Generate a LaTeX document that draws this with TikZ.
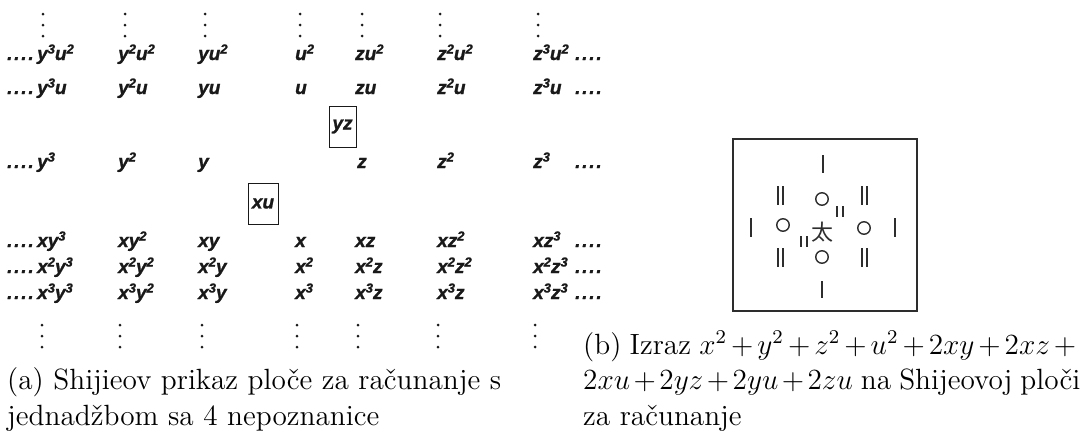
\documentclass[tikz,border=0pt]{standalone}
\usepackage{fontspec}
\usepackage{graphicx}
\newfontfamily\gridfont{Liberation Sans}[BoldItalicFeatures={FakeBold=1.2}]
\newfontfamily\cjkfont{Noto Sans CJK SC}
\newcommand\pw[1]{\raisebox{6.5pt}{\fontsize{13}{14}\selectfont #1}}
\newcommand\hdts{.\kern1.8pt.\kern1.8pt.\kern1.8pt.}
\definecolor{ink}{RGB}{25,25,25}
\definecolor{rod}{RGB}{45,45,45}
\tikzset{
  term/.style={anchor=base west, inner sep=0pt, text=ink,
    font=\gridfont\bfseries\itshape\fontsize{19}{21}\selectfont},
  boxterm/.style={draw=ink, line width=0.9pt, inner sep=0pt, text=ink,
    font=\gridfont\bfseries\itshape\fontsize{19}{21}\selectfont},
  rodline/.style={draw=rod, line width=2.2pt},
  smallrod/.style={draw=rod, line width=1.8pt},
  ring/.style={circle, draw=rod, line width=1.4pt, minimum size=12.5pt, inner sep=0pt},
  captext/.style={anchor=base west, inner sep=0pt},
}
\begin{document}
\begin{tikzpicture}[x=1pt,y=-1pt]
\useasboundingbox (0,0) rectangle (1085,442);
% vertical dots
\foreach \cx in {43,125,205,300,362,440,538}{
  \foreach \cy in {14,25,36}{\fill[ink] (\cx,\cy) circle (1.5);}
}
\foreach \cx in {42,120,202,297,358,438,535}{
  \foreach \cy in {325,336,347}{\fill[ink] (\cx,\cy) circle (1.5);}
}
% leading and trailing dots
\foreach \ry [count=\i] in {60,94,168,247,273,299}{
  \node[term] (ld\i) at (7,\ry) {\hdts};
  \node[term] (td\i) at (575,\ry) {\hdts};
}
% row u^2
\node[term] (a0) at (37,60) {y\pw{3}u\pw{2}};
\node[term] (a1) at (118,60) {y\pw{2}u\pw{2}};
\node[term] (a2) at (198,60) {yu\pw{2}};
\node[term] (a3) at (295,60) {u\pw{2}};
\node[term] (a4) at (355,60) {zu\pw{2}};
\node[term] (a5) at (437,60) {z\pw{2}u\pw{2}};
\node[term] (a6) at (533,60) {z\pw{3}u\pw{2}};
% row u
\node[term] (b0) at (37,94) {y\pw{3}u};
\node[term] (b1) at (118,94) {y\pw{2}u};
\node[term] (b2) at (198,94) {yu};
\node[term] (b3) at (295,94) {u};
\node[term] (b4) at (355,94) {zu};
\node[term] (b5) at (437,94) {z\pw{2}u};
\node[term] (b6) at (533,94) {z\pw{3}u};
% boxed yz
\node[boxterm, minimum width=27pt, minimum height=41pt] (yz) at (342.5,126.5) {yz};
% row y
\node[term] (c0) at (37,168) {y\pw{3}};
\node[term] (c1) at (118,168) {y\pw{2}};
\node[term] (c2) at (198,168) {y};
\node[term] (c4) at (357,168) {z};
\node[term] (c5) at (437,168) {z\pw{2}};
\node[term] (c6) at (533,168) {z\pw{3}};
% boxed xu
\node[boxterm, minimum width=30pt, minimum height=41pt] (xu) at (263,203.5) {xu};
% row x
\node[term] (d0) at (37,247) {xy\pw{3}};
\node[term] (d1) at (118,247) {xy\pw{2}};
\node[term] (d2) at (198,247) {xy};
\node[term] (d3) at (295,247) {x};
\node[term] (d4) at (355,247) {xz};
\node[term] (d5) at (437,247) {xz\pw{2}};
\node[term] (d6) at (533,247) {xz\pw{3}};
% row x^2
\node[term] (e0) at (37,273) {x\pw{2}y\pw{3}};
\node[term] (e1) at (118,273) {x\pw{2}y\pw{2}};
\node[term] (e2) at (198,273) {x\pw{2}y};
\node[term] (e3) at (295,273) {x\pw{2}};
\node[term] (e4) at (355,273) {x\pw{2}z};
\node[term] (e5) at (437,273) {x\pw{2}z\pw{2}};
\node[term] (e6) at (533,273) {x\pw{2}z\pw{3}};
% row x^3
\node[term] (f0) at (37,299) {x\pw{3}y\pw{3}};
\node[term] (f1) at (118,299) {x\pw{3}y\pw{2}};
\node[term] (f2) at (198,299) {x\pw{3}y};
\node[term] (f3) at (295,299) {x\pw{3}};
\node[term] (f4) at (355,299) {x\pw{3}z};
\node[term] (f5) at (437,299) {x\pw{3}z};
\node[term] (f6) at (533,299) {x\pw{3}z\pw{3}};
% counting board
\node[draw=rod, line width=1.3pt, minimum width=184pt, minimum height=172pt, inner sep=0pt] (board) at (825,225) {};
\node[inner sep=0pt, text=rod, font=\cjkfont\fontsize{22}{22}\selectfont] (tai) at (822,232) {太};
\node[ring] (oup) at (822,199) {};
\node[ring] (olf) at (783,225) {};
\node[ring] (ort) at (864,228) {};
\node[ring] (odn) at (822,257) {};
\draw[rodline] (823,155) -- (823,173);
\draw[rodline] (778,186) -- (778,205) (783,186) -- (783,205);
\draw[rodline] (862,186) -- (862,205) (867,186) -- (867,205);
\draw[rodline] (751,218) -- (751,237);
\draw[rodline] (895,218) -- (895,237);
\draw[rodline] (778,248) -- (778,267) (783,248) -- (783,267);
\draw[rodline] (862,248) -- (862,267) (867,248) -- (867,267);
\draw[rodline] (822,281) -- (822,298);
\draw[smallrod] (837,206) -- (837,217) (843,206) -- (843,217);
\draw[smallrod] (801,236) -- (801,247) (807,236) -- (807,247);
% captions
\node[captext] (capa) at (7,425) {\scalebox{2.44}{\parbox[b]{230pt}{\fontsize{12}{14.5}\selectfont\raggedright
  (a) Shijieov prikaz ploče za računanje s\\ jednadžbom sa 4 nepoznanice}}};
\node[captext] (capb) at (583,425) {\scalebox{2.44}{\parbox[b]{203.7pt}{\fontsize{12}{14.5}\selectfont
  (b) Izraz $x^2+y^2+z^2+u^2+2xy+2xz+{}$\linebreak $2xu+2yz+2yu+2zu$ na Shijeovoj ploči\linebreak za računanje}}};
\end{tikzpicture}
\end{document}
